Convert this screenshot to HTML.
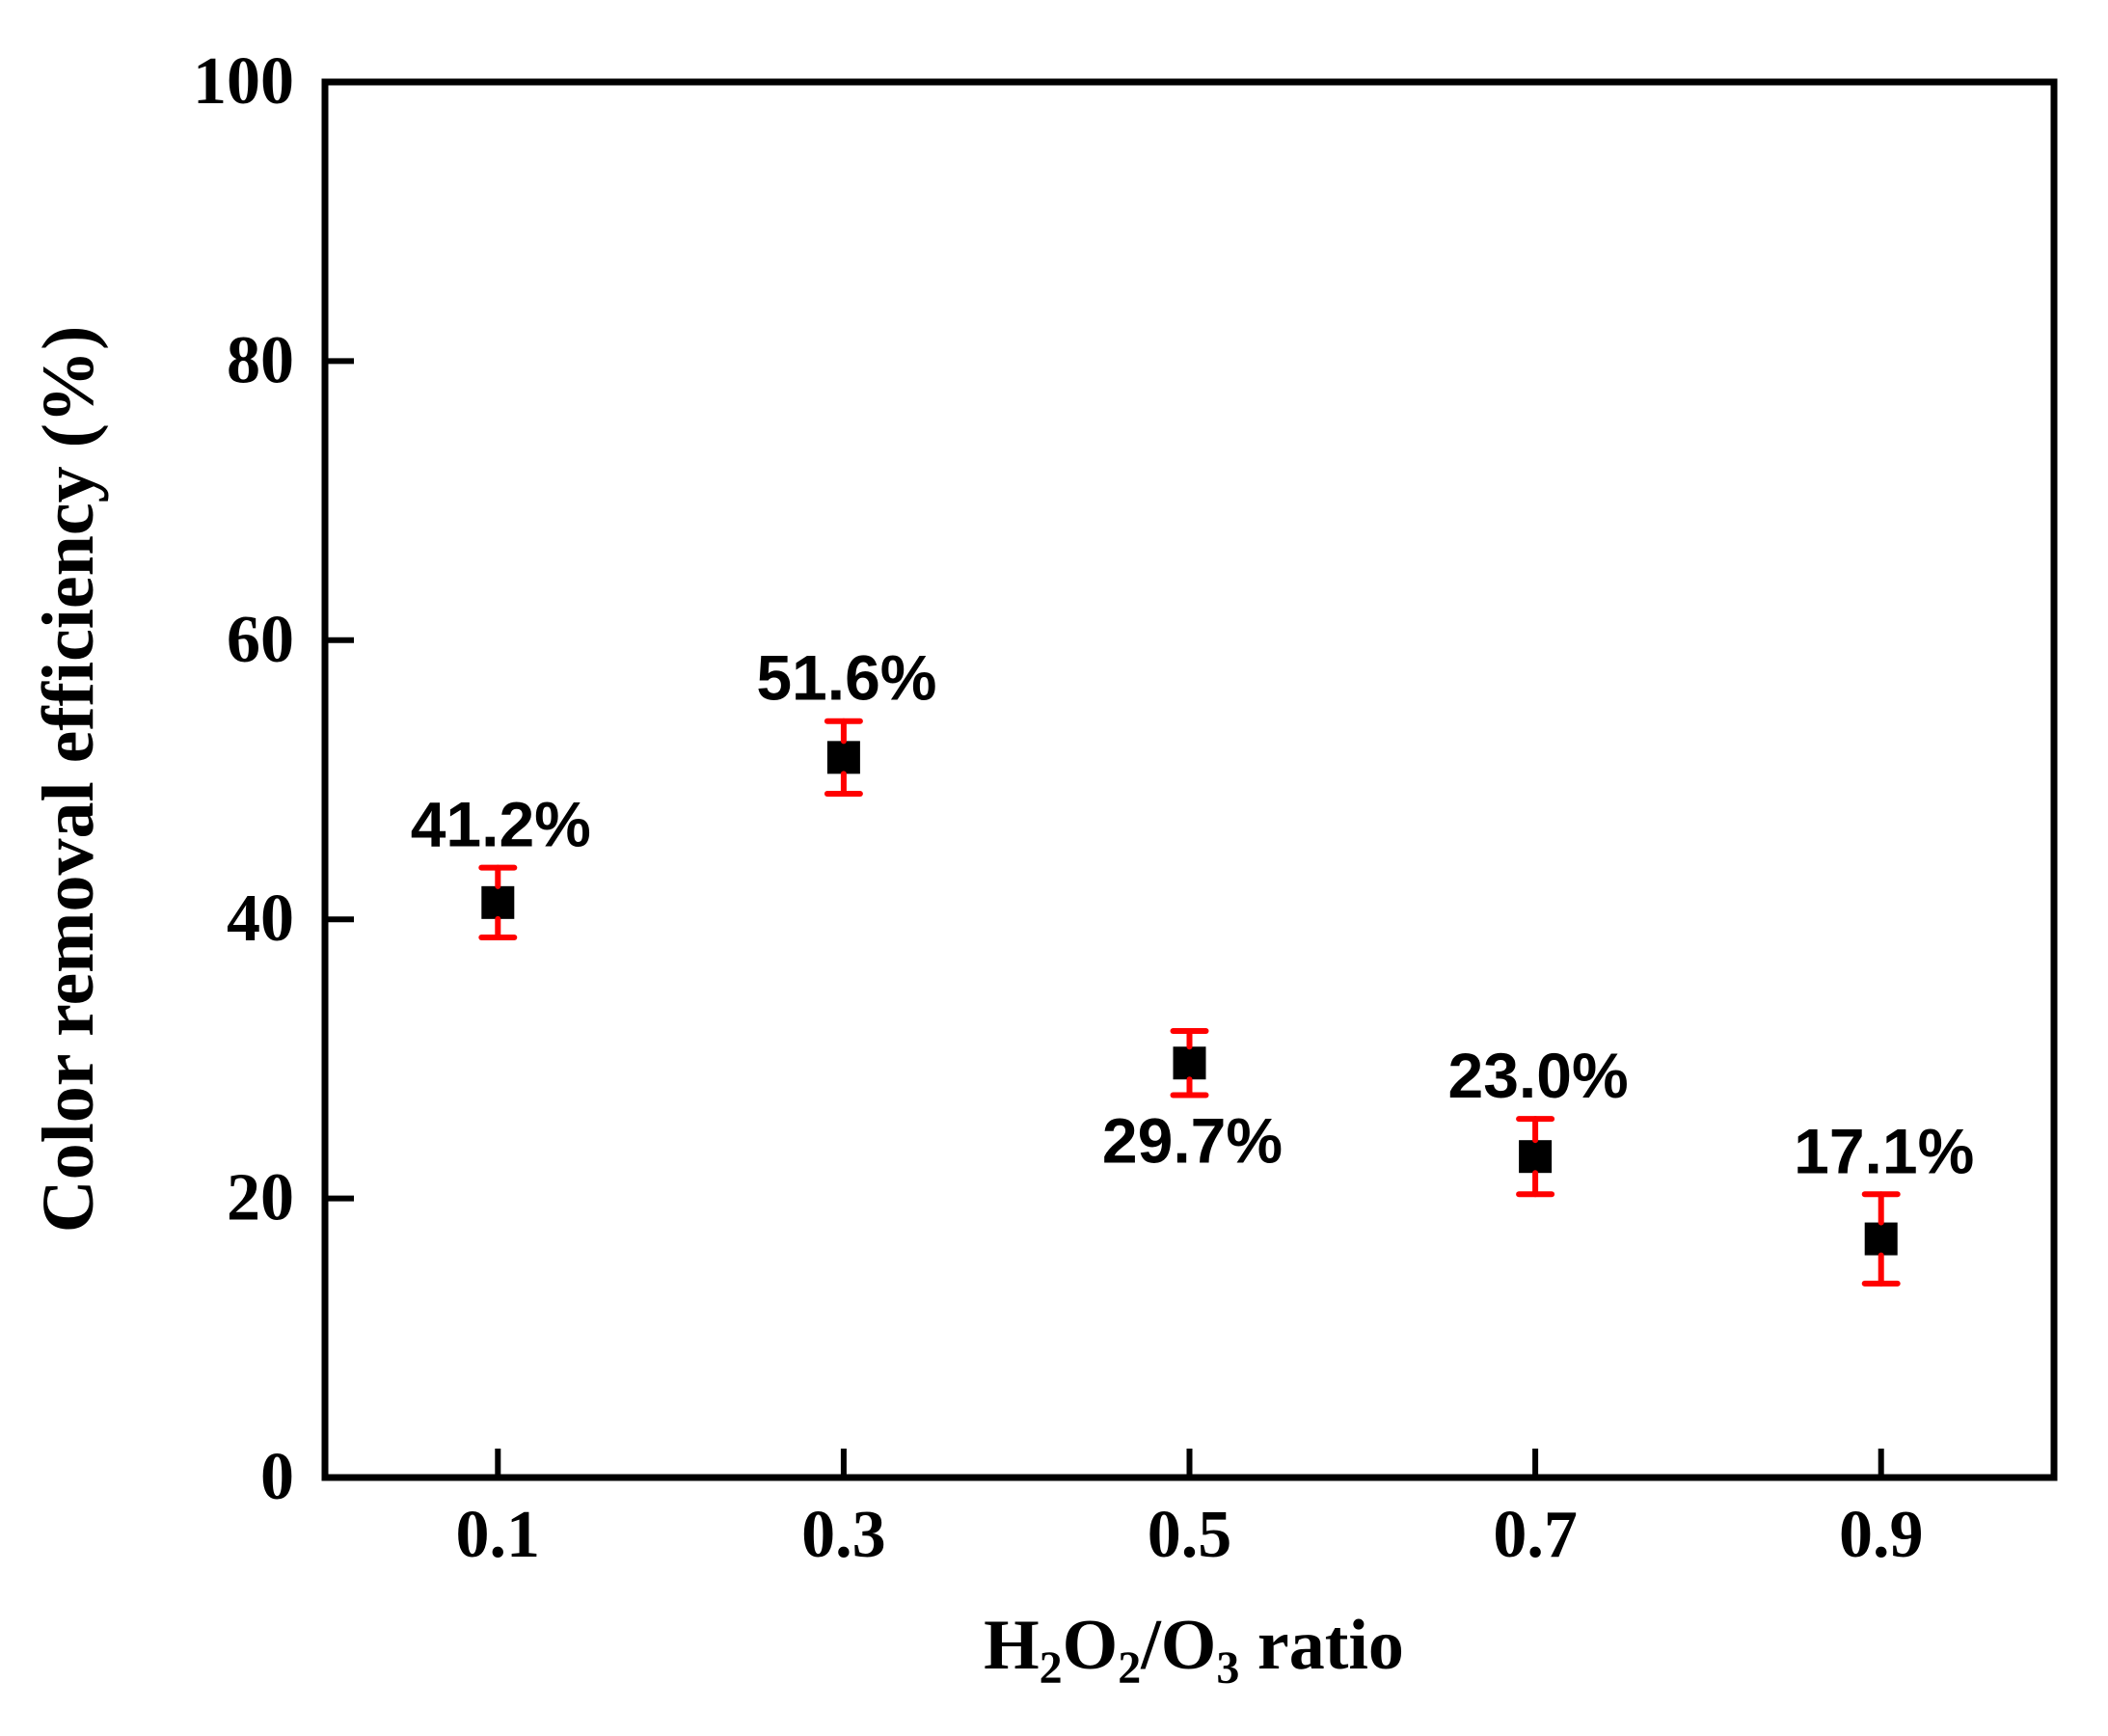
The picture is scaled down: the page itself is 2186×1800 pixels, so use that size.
<!DOCTYPE html>
<html><head><meta charset="utf-8"><style>
html,body{margin:0;padding:0;background:#fff;}
svg{display:block;}
.tnr{font-family:"Liberation Serif",serif;font-weight:bold;}
.ars{font-family:"Liberation Sans",sans-serif;font-weight:bold;}
</style></head><body>
<svg id="chart" width="2186" height="1800" viewBox="0 0 2186 1800" xmlns="http://www.w3.org/2000/svg">
<rect x="0" y="0" width="2186" height="1800" fill="#fff"/>
<g id="marks"></g>
<text class="tnr" font-size="76" text-anchor="middle" transform="translate(96,808) rotate(-90)">Color removal efficiency (%)</text>
<text class="tnr" font-size="74" x="1238" y="1730" text-anchor="middle">H<tspan font-size="48" dy="15">2</tspan><tspan dy="-15">O</tspan><tspan font-size="48" dy="15">2</tspan><tspan dy="-15">/O</tspan><tspan font-size="48" dy="15">3</tspan><tspan dy="-15"> ratio</tspan></text>
</svg>
<script>
const categories = [0.1, 0.3, 0.5, 0.7, 0.9];
const values = [41.2, 51.6, 29.7, 23.0, 17.1];
const errors = [2.5, 2.6, 2.3, 2.7, 3.2];
const valueLabels = ["41.2%", "51.6%", "29.7%", "23.0%", "17.1%"];
const labelSide = [1, 1, -1, 1, 1];
const yTicks = [0, 20, 40, 60, 80, 100];
const xTicks = [0.1, 0.3, 0.5, 0.7, 0.9];

const L = 337, R = 2130, T = 85, B = 1532;
const xs = v => L + (v - 0) / (1.0 - 0) * (R - L);
const ys = v => B - (v - 0) / 100 * (B - T);
const NS = "http://www.w3.org/2000/svg";
const g = document.getElementById('marks');
function mk(tag, attrs, parent) {
  const e = document.createElementNS(NS, tag);
  for (const k in attrs) e.setAttribute(k, attrs[k]);
  (parent || g).appendChild(e);
  return e;
}
const frame = mk('rect', {x: L, y: T, width: R - L, height: B - T, fill: 'none', stroke: '#000', 'stroke-width': 7});


yTicks.forEach(t => {
  const y = ys(t);
  if (t > 0 && t < 100) {
    const tk = mk('line', {x1: L, x2: L + 30, y1: y, y2: y, stroke: '#000', 'stroke-width': 6});
    
    
  }
  const tx = mk('text', {x: 305, y: y + 22, 'text-anchor': 'end', 'font-size': 70, class: 'tnr'});
  tx.textContent = String(t);
  
  
});
xTicks.forEach(t => {
  const x = xs(t);
  const tk = mk('line', {x1: x, x2: x, y1: B, y2: B - 30, stroke: '#000', 'stroke-width': 6});
  
  
  const tx = mk('text', {x: x, y: 1614, 'text-anchor': 'middle', 'font-size': 70, class: 'tnr'});
  tx.textContent = t.toFixed(1);
  
  
});
categories.forEach((c, i) => {
  const x = xs(c), y = ys(values[i]);
  const m = mk('rect', {x: x - 17, y: y - 17, width: 34, height: 34, fill: '#000'});
  
  
  const yt = ys(values[i] + errors[i]), yb = ys(values[i] - errors[i]);
  const eg = mk('g', {stroke: '#ff0000', 'stroke-width': 6, 'stroke-linecap': 'round'});
  
  
  mk('line', {x1: x, x2: x, y1: yt, y2: y - 17}, eg);
  mk('line', {x1: x, x2: x, y1: y + 17, y2: yb}, eg);
  mk('line', {x1: x - 17, x2: x + 17, y1: yt, y2: yt}, eg);
  mk('line', {x1: x - 17, x2: x + 17, y1: yb, y2: yb}, eg);
  const ly = labelSide[i] > 0 ? yt - 22 : yb + 70;
  const tx = mk('text', {x: x + 3, y: ly, 'text-anchor': 'middle', 'font-size': 66, class: 'ars'});
  tx.textContent = valueLabels[i];
  
  
});
</script>
</body></html>
